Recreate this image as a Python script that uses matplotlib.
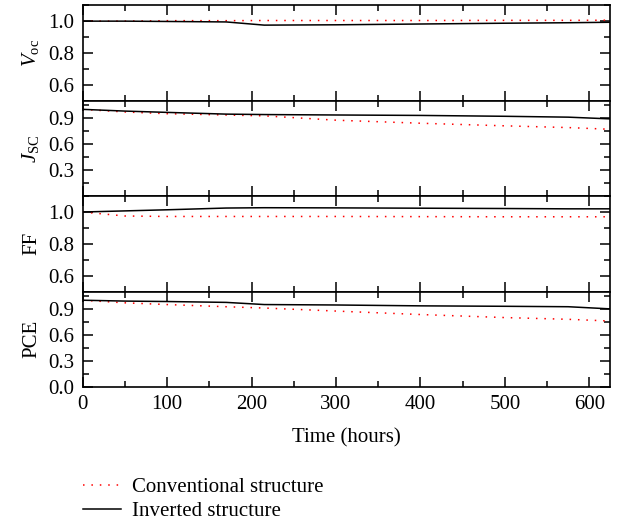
import numpy as np
import matplotlib
matplotlib.use('Agg')
import matplotlib.pyplot as plt
from matplotlib.ticker import MultipleLocator

plt.rcParams['font.family'] = 'Liberation Serif'
plt.rcParams['mathtext.fontset'] = 'custom'
plt.rcParams['mathtext.rm'] = 'Liberation Serif'
plt.rcParams['mathtext.it'] = 'Liberation Serif:italic'
plt.rcParams['font.size'] = 15

# time points (hours)
time = [0, 50, 100, 170, 215, 300, 400, 500, 575, 625]

voc_conv = [1.0, 1.0, 1.003, 1.003, 1.004, 1.004, 1.004, 1.005, 1.005, 1.006]
voc_inv = [1.0, 1.0, 0.998, 0.995, 0.975, 0.977, 0.982, 0.987, 0.99, 0.993]

jsc_conv = [1.0, 0.97, 0.95, 0.935, 0.925, 0.875, 0.84, 0.81, 0.79, 0.77]
jsc_inv = [1.0, 0.98, 0.965, 0.945, 0.94, 0.935, 0.93, 0.92, 0.91, 0.89]

ff_conv = [1.0, 0.975, 0.972, 0.972, 0.972, 0.972, 0.971, 0.97, 0.97, 0.97]
ff_inv = [1.0, 1.007, 1.014, 1.025, 1.027, 1.026, 1.024, 1.022, 1.02, 1.02]

pce_conv = [1.0, 0.97, 0.95, 0.925, 0.91, 0.875, 0.835, 0.80, 0.78, 0.76]
pce_inv = [1.0, 0.99, 0.985, 0.975, 0.95, 0.945, 0.935, 0.93, 0.925, 0.90]

panels = [
    (r'$V_{\mathrm{oc}}$', voc_conv, voc_inv, (0.5, 1.1), 0.1, [0.6, 0.8, 1.0]),
    (r'$J_{\mathrm{SC}}$', jsc_conv, jsc_inv, (0.0, 1.1), 0.15, [0.3, 0.6, 0.9]),
    ('FF', ff_conv, ff_inv, (0.5, 1.1), 0.1, [0.6, 0.8, 1.0]),
    ('PCE', pce_conv, pce_inv, (0.0, 1.1), 0.15, [0.0, 0.3, 0.6, 0.9]),
]

fig = plt.figure(figsize=(6.21, 5.24), dpi=100)
gs = fig.add_gridspec(4, 1, left=0.133, right=0.983, top=0.99, bottom=0.2615, hspace=0)

for i, (label, conv, inv, ylim, minor, ticks) in enumerate(panels):
    ax = fig.add_subplot(gs[i])
    l1, = ax.plot(time, conv, color='red', linestyle=(0, (1, 4.5)), linewidth=1.1,
                  label='Conventional structure')
    l2, = ax.plot(time, inv, color='black', linestyle='-', linewidth=1.1,
                  label='Inverted structure')
    ax.set_xlim(0, 625)
    ax.set_ylim(*ylim)
    ax.set_yticks(ticks)
    ax.yaxis.set_minor_locator(MultipleLocator(minor))
    ax.xaxis.set_major_locator(MultipleLocator(100))
    ax.xaxis.set_minor_locator(MultipleLocator(50))
    ax.tick_params(which='both', direction='in', top=True, right=True, width=1.1)
    ax.tick_params(which='major', length=7, pad=6)
    ax.tick_params(which='minor', length=4)
    for s in ax.spines.values():
        s.set_linewidth(1.2)
    ax.set_ylabel(label)
    ax.yaxis.set_label_coords(-0.078, 0.5)
    if i < 3:
        ax.tick_params(labelbottom=False)
    else:
        ax.set_xlabel('Time (hours)', labelpad=10)

fig.legend(handles=[l1, l2], loc='upper left', bbox_to_anchor=(0.134, 0.088),
           frameon=False, handlelength=1.8, handletextpad=0.55, labelspacing=0.2,
           borderaxespad=0, borderpad=0)

fig.savefig('out.png', dpi=100)
